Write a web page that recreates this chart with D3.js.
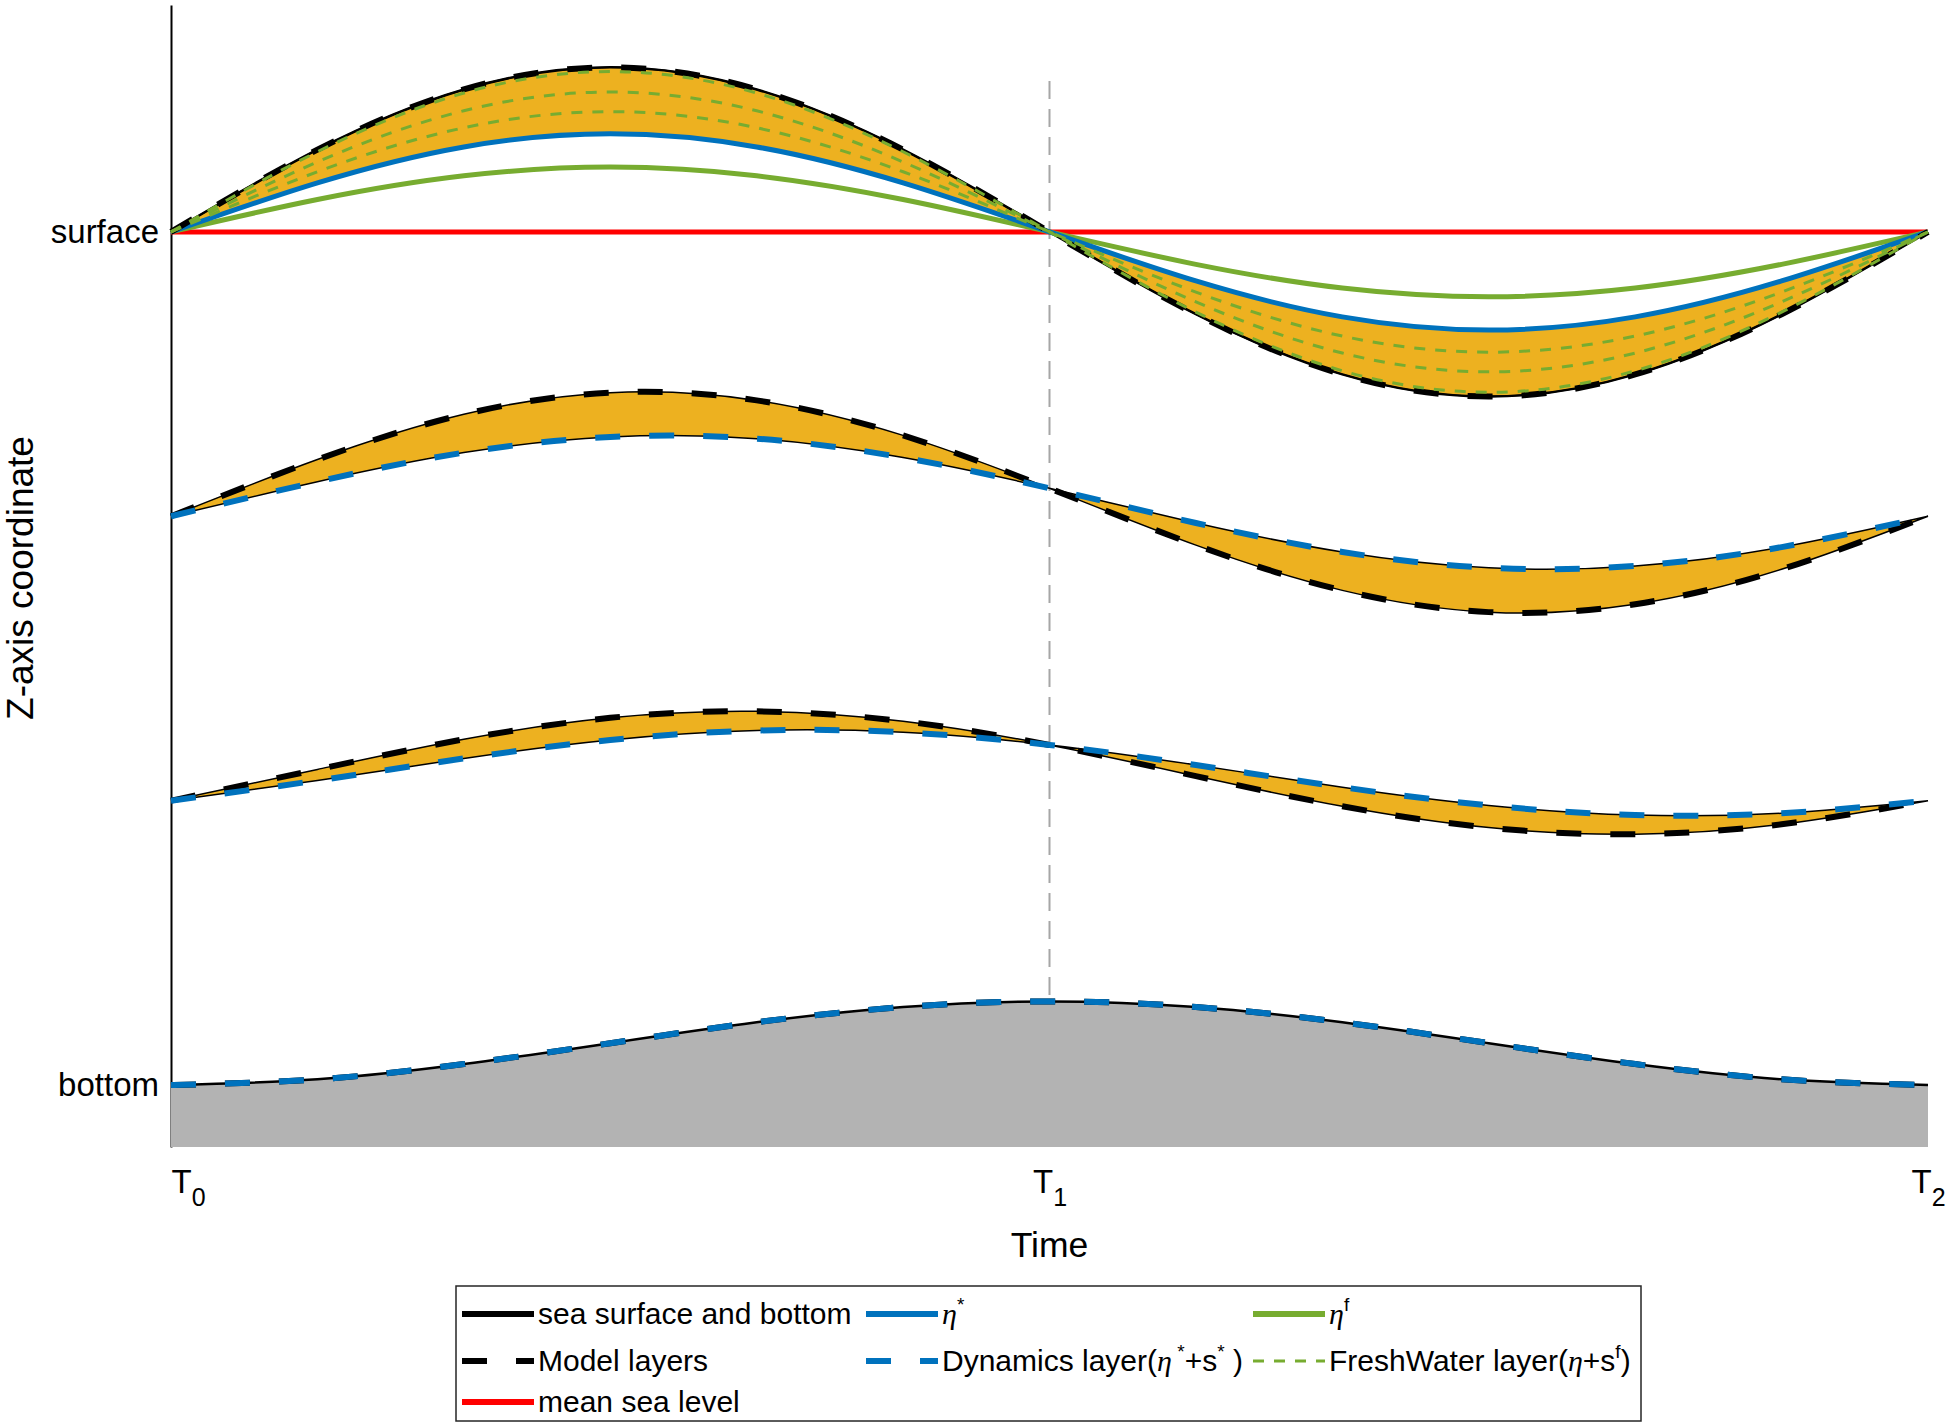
<!DOCTYPE html>
<html>
<head>
<meta charset="utf-8">
<script src="https://cdn.jsdelivr.net/npm/d3@7"></script>
<style>
  body { margin: 0; background: #fff; }
  text { font-family: "Liberation Sans", Arial, sans-serif; fill: #000; }
</style>
</head>
<body>
<div class="vis-layers"></div>
<script>
// time axis: T0 = 0, T1 = 1, T2 = 2
const timePts = [0, 0.16667, 0.33333, 0.5, 0.66667, 0.83333, 1, 1.16667, 1.33333, 1.5, 1.66667, 1.83333, 2];
const timeTicks = [0, 1, 2];
const timeTickSubs = ['0', '1', '2'];

// z values: bottom = 0, mean surface = 1
const zTicks = [0, 1];
const zTickLabels = ['bottom', 'surface'];
const zRange = [-0.0727, 1.266];
const meanSeaLevel = 1;

const seaSurface = [1, 1.0965, 1.167, 1.193, 1.167, 1.0965, 1, 0.9035, 0.833, 0.807, 0.833, 0.9035, 1];
const seaBottom = [0, 0.0066, 0.0245, 0.049, 0.0735, 0.0914, 0.098, 0.0914, 0.0735, 0.049, 0.0245, 0.0066, 0];
const etaStar = [1, 1.0575, 1.0996, 1.115, 1.0996, 1.0575, 1, 0.9425, 0.9004, 0.885, 0.9004, 0.9425, 1];
const etaF = [1, 1.038, 1.0658, 1.076, 1.0658, 1.038, 1, 0.962, 0.9342, 0.924, 0.9342, 0.962, 1];

const modelLayer1 = [0.6667, 0.7332, 0.7862, 0.8116, 0.8025, 0.7615, 0.6994, 0.6328, 0.5798, 0.5543, 0.5635, 0.6045, 0.6667];
const modelLayer2 = [0.3333, 0.3699, 0.4053, 0.4304, 0.438, 0.4264, 0.3986, 0.3621, 0.3267, 0.3017, 0.294, 0.3056, 0.3333];
const dynLayer1 = [0.6667, 0.7072, 0.7413, 0.7596, 0.7576, 0.7355, 0.6994, 0.6588, 0.6248, 0.6063, 0.6085, 0.6305, 0.6667];
const dynLayer2 = [0.3333, 0.3569, 0.3828, 0.4044, 0.4155, 0.4134, 0.3986, 0.3751, 0.3491, 0.3277, 0.3164, 0.3186, 0.3333];

const freshLayer1 = [1, 1.094, 1.1628, 1.188, 1.1628, 1.094, 1, 0.906, 0.8372, 0.812, 0.8372, 0.906, 1];
const freshLayer2 = [1, 1.082, 1.142, 1.164, 1.142, 1.082, 1, 0.918, 0.858, 0.836, 0.858, 0.918, 1];
const freshLayer3 = [1, 1.0705, 1.1221, 1.141, 1.1221, 1.0705, 1, 0.9295, 0.8779, 0.859, 0.8779, 0.9295, 1];

const t1LineTop = 1.177;

const colors = {
    blue: '#0072BD',
    green: '#77AC30',
    orange: '#EDB120',
    red: '#FF0000',
    gray: '#B3B3B3',
};

const width = 1949;
const height = 1428;

const svg = d3
    .select('.vis-layers')
    .append('svg')
    .attr('width', width)
    .attr('height', height);

const x = d3.scaleLinear().domain([0, 2]).range([171, 1928]);
const y = d3.scaleLinear().domain(zRange).range([1147, 5]);

const toPts = (vals) => vals.map((v, i) => [timePts[i], v]);

const line = d3
    .line()
    .x((d) => x(d[0]))
    .y((d) => y(d[1]))
    .curve(d3.curveNatural);

const band = (upper, lower) =>
    d3
        .area()
        .x((d, i) => x(timePts[i]))
        .y0((d, i) => y(lower[i]))
        .y1((d, i) => y(upper[i]))
        .curve(d3.curveNatural)(upper);

// Y axis
const yAxis = svg
    .append('g')
    .attr('transform', 'translate(' + x(0) + ',0)')
    .call(
        d3
            .axisLeft(y)
            .tickValues(zTicks)
            .tickFormat((d, i) => zTickLabels[i])
            .tickSize(0)
            .tickPadding(12)
    );
yAxis.select('.domain').attr('stroke', '#000').attr('stroke-width', 2);
yAxis.selectAll('text').attr('font-size', 33).attr('font-family', '"Liberation Sans", Arial, sans-serif').attr('fill', '#000');

// X axis (labels only)
const xAxis = svg
    .append('g')
    .attr('transform', 'translate(0,' + y(zRange[0]) + ')')
    .call(d3.axisBottom(x).tickValues(timeTicks).tickSize(0).tickPadding(23));
xAxis.select('.domain').remove();
xAxis.selectAll('text').each(function (d, i) {
    const t = d3.select(this);
    t.text(null)
        .attr('font-size', 33)
        .attr('font-family', '"Liberation Sans", Arial, sans-serif')
        .attr('fill', '#000')
        .attr('text-anchor', i === 0 ? 'start' : 'middle');
    t.append('tspan').text('T');
    t.append('tspan').attr('dy', 13).attr('font-size', 25).text(timeTickSubs[i]);
});

// T1 guide line
svg.append('line')
    .attr('x1', x(1))
    .attr('x2', x(1))
    .attr('y1', y(t1LineTop))
    .attr('y2', y(seaBottom[6]))
    .attr('stroke', '#a6a6a6')
    .attr('stroke-width', 2)
    .attr('stroke-dasharray', '18,10');

// bottom fill
svg.append('path')
    .attr('d', band(seaBottom, seaBottom.map(() => zRange[0])))
    .attr('fill', colors.gray);

// orange bands
[
    [seaSurface, etaStar],
    [modelLayer1, dynLayer1],
    [modelLayer2, dynLayer2],
].forEach(([a, b]) => {
    svg.append('path')
        .attr('d', band(a, b))
        .attr('fill', colors.orange)
        .attr('stroke', '#000')
        .attr('stroke-width', 1.5);
});

// mean sea level
svg.append('line')
    .attr('x1', x(0))
    .attr('x2', x(2))
    .attr('y1', y(meanSeaLevel))
    .attr('y2', y(meanSeaLevel))
    .attr('stroke', colors.red)
    .attr('stroke-width', 5);

const drawLine = (vals, color, w, dash) => {
    svg.append('path')
        .attr('d', line(toPts(vals)))
        .attr('fill', 'none')
        .attr('stroke', color)
        .attr('stroke-width', w)
        .attr('stroke-dasharray', dash || null);
};

drawLine(etaF, colors.green, 5);
drawLine(etaStar, colors.blue, 5);
drawLine(seaSurface, '#000', 2.5);
drawLine(seaBottom, '#000', 2.5);

// model layers
[seaSurface, modelLayer1, modelLayer2, seaBottom].forEach((v) => drawLine(v, '#000', 6, '25,29'));
// dynamics layers
[dynLayer1, dynLayer2, seaBottom].forEach((v) => drawLine(v, colors.blue, 6, '25,29'));
// freshwater layers
[freshLayer1, freshLayer2, freshLayer3].forEach((v) => drawLine(v, colors.green, 3, '11,10'));

// axis titles
svg.append('text')
    .attr('x', x(1))
    .attr('y', 1257)
    .attr('text-anchor', 'middle')
    .attr('font-size', 35.5)
    .text('Time');

svg.append('text')
    .attr('transform', 'translate(33,578) rotate(-90)')
    .attr('text-anchor', 'middle')
    .attr('font-size', 37)
    .text('Z-axis coordinate');

// Legend
const legendBox = { x: 456, y: 1286, w: 1185, h: 135 };
const legendCols = [462, 866, 1253];
const legendRows = [1314, 1361, 1402];

const legendItems = [
    { row: 0, col: 0, color: '#000', w: 6, dash: null, label: [{ t: 'sea surface and bottom' }] },
    { row: 0, col: 1, color: colors.blue, w: 6, dash: null, label: [{ t: 'η', it: true }, { t: '*', sup: true }] },
    { row: 0, col: 2, color: colors.green, w: 6, dash: null, label: [{ t: 'η', it: true }, { t: 'f', sup: true }] },
    { row: 1, col: 0, color: '#000', w: 6, dash: '25,29', label: [{ t: 'Model layers' }] },
    {
        row: 1, col: 1, color: colors.blue, w: 6, dash: '25,29',
        label: [{ t: 'Dynamics layer(' }, { t: 'η', it: true }, { t: ' *', sup: true }, { t: '+s' }, { t: '*', sup: true }, { t: ' )' }],
    },
    {
        row: 1, col: 2, color: colors.green, w: 3, dash: '11,10',
        label: [{ t: 'FreshWater layer(' }, { t: 'η', it: true }, { t: '+s' }, { t: 'f', sup: true }, { t: ')' }],
    },
    { row: 2, col: 0, color: colors.red, w: 6, dash: null, label: [{ t: 'mean sea level' }] },
];

const legend = svg.append('g');
legend.append('rect')
    .attr('x', legendBox.x)
    .attr('y', legendBox.y)
    .attr('width', legendBox.w)
    .attr('height', legendBox.h)
    .attr('fill', '#fff')
    .attr('stroke', '#262626')
    .attr('stroke-width', 1.5);

legendItems.forEach((item) => {
    const lx = legendCols[item.col];
    const ly = legendRows[item.row];
    legend.append('line')
        .attr('x1', lx)
        .attr('x2', lx + 72)
        .attr('y1', ly)
        .attr('y2', ly)
        .attr('stroke', item.color)
        .attr('stroke-width', item.w)
        .attr('stroke-dasharray', item.dash);

    const txt = legend.append('text')
        .attr('x', lx + 76)
        .attr('y', ly + 10)
        .attr('font-size', 30)
        .attr('xml:space', 'preserve');
    let shifted = false;
    item.label.forEach((seg) => {
        const ts = txt.append('tspan').text(seg.t);
        if (seg.it) {
            ts.attr('font-style', 'italic').attr('font-family', '"Liberation Serif", "Times New Roman", serif');
        }
        if (seg.sup) {
            ts.attr('dy', -13).attr('font-size', 19);
            shifted = true;
        } else if (shifted) {
            ts.attr('dy', 13);
            shifted = false;
        }
    });
});
</script>
</body>
</html>
